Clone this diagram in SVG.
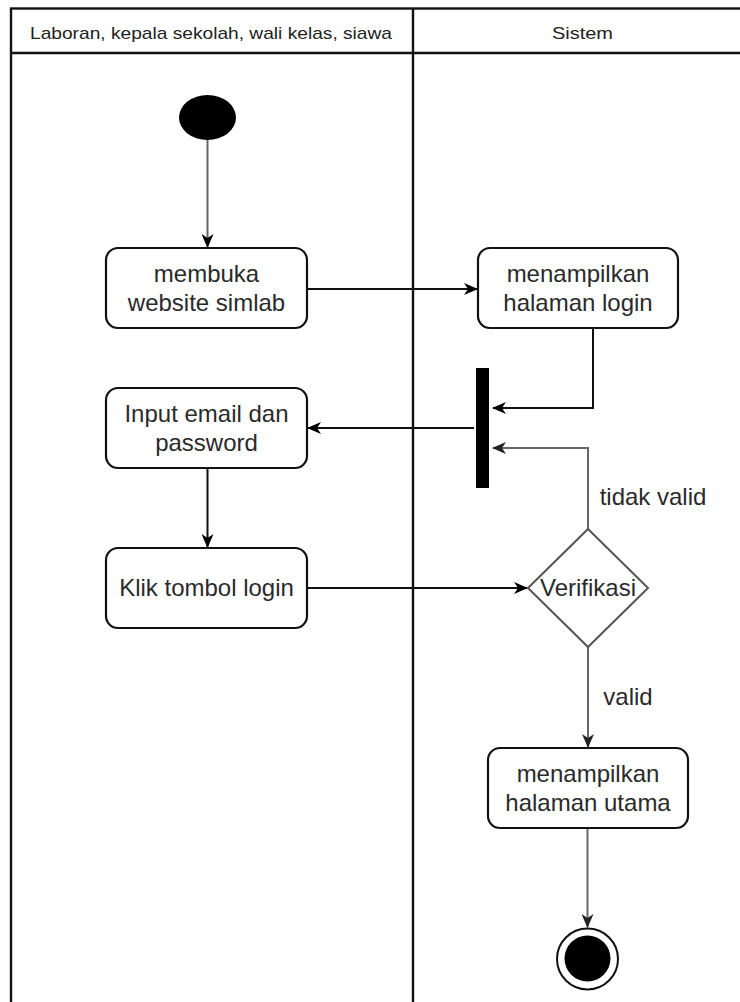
<svg xmlns="http://www.w3.org/2000/svg" width="740" height="1002" viewBox="0 0 740 1002">
  <defs>
    <marker id="arrow" viewBox="0 0 14 12" refX="13" refY="6" markerWidth="14" markerHeight="12" markerUnits="userSpaceOnUse" orient="auto">
      <path d="M0,0 L14,6 L0,12 L4,6 z" fill="#000"/>
    </marker>
    <marker id="arrowGrey" viewBox="0 0 14 12" refX="13" refY="6" markerWidth="14" markerHeight="12" markerUnits="userSpaceOnUse" orient="auto">
      <path d="M0,0 L14,6 L0,12 L4,6 z" fill="#222"/>
    </marker>
  </defs>
  <style>
    .lane { fill: none; stroke: #111; stroke-width: 2.4; }
    .hdr { font-family: "Liberation Sans", Arial, sans-serif; font-size: 17px; fill: #222; text-anchor: middle; }
    .act { fill: #fff; stroke: #111; stroke-width: 2.2; }
    .lbl { font-family: "Liberation Sans", Arial, sans-serif; font-size: 24px; fill: #2a2a2a; text-anchor: middle; }
    .edge { fill: none; stroke: #111; stroke-width: 2; }
    .edgeG { fill: none; stroke: #666; stroke-width: 2; }
  </style>

  <rect width="740" height="1002" fill="#fff"/>

  <!-- swimlane frame -->
  <g id="pool">
    <rect class="lane" x="11" y="8.5" width="745" height="1010"/>
    <line class="lane" x1="11" y1="53" x2="756" y2="53"/>
    <line class="lane" x1="413" y1="8.5" x2="413" y2="1010"/>
    <text class="hdr" x="211" y="39" textLength="362" lengthAdjust="spacingAndGlyphs">Laboran, kepala sekolah, wali kelas, siawa</text>
    <text class="hdr" x="582.5" y="39" textLength="61" lengthAdjust="spacingAndGlyphs">Sistem</text>
  </g>

  <!-- connectors -->
  <g id="connectors">
    <line class="edgeG" x1="207.5" y1="140" x2="207.5" y2="247" marker-end="url(#arrow)"/>
    <line class="edge" x1="307" y1="289" x2="477" y2="289" marker-end="url(#arrow)"/>
    <polyline class="edge" points="593,329 593,408 493,408" marker-end="url(#arrow)"/>
    <line class="edge" x1="474" y1="428" x2="308" y2="428" marker-end="url(#arrow)"/>
    <line class="edge" x1="207.5" y1="469" x2="207.5" y2="547" marker-end="url(#arrow)"/>
    <line class="edge" x1="307" y1="588" x2="527" y2="588" marker-end="url(#arrow)"/>
    <polyline class="edgeG" points="588,529 588,448 493,448" marker-end="url(#arrowGrey)"/>
    <line class="edgeG" x1="588" y1="647" x2="588" y2="747" marker-end="url(#arrowGrey)"/>
    <line class="edgeG" x1="587.5" y1="829" x2="587.5" y2="927" marker-end="url(#arrowGrey)"/>
    <text class="lbl" x="653" y="505">tidak valid</text>
    <text class="lbl" x="628" y="705">valid</text>
  </g>

  <!-- initial node -->
  <g id="start">
    <ellipse cx="207.5" cy="117.5" rx="28.5" ry="22.5" fill="#000"/>
  </g>

  <g id="membuka-website">
    <rect class="act" x="106" y="248" width="201" height="80" rx="12"/>
    <text class="lbl" x="206.5" y="282">membuka</text>
    <text class="lbl" x="206.5" y="311">website simlab</text>
  </g>

  <g id="tampil-login">
    <rect class="act" x="478" y="248" width="200" height="80" rx="12"/>
    <text class="lbl" x="578" y="282">menampilkan</text>
    <text class="lbl" x="578" y="311">halaman login</text>
  </g>

  <!-- fork/join bar -->
  <g id="bar">
    <rect x="476" y="368" width="13" height="120" fill="#000"/>
  </g>

  <g id="input-email">
    <rect class="act" x="106" y="388" width="201" height="80" rx="12"/>
    <text class="lbl" x="206.5" y="422">Input email dan</text>
    <text class="lbl" x="206.5" y="451">password</text>
  </g>

  <g id="klik-login">
    <rect class="act" x="106" y="548" width="201" height="80" rx="12"/>
    <text class="lbl" x="206.5" y="596">Klik tombol login</text>
  </g>

  <g id="verifikasi">
    <polygon points="588,529 648,588 588,647 528,588" fill="#fff" stroke="#555" stroke-width="2"/>
    <text class="lbl" x="588" y="596">Verifikasi</text>
  </g>

  <g id="tampil-utama">
    <rect class="act" x="488" y="748" width="200" height="80" rx="12"/>
    <text class="lbl" x="588" y="782">menampilkan</text>
    <text class="lbl" x="588" y="811">halaman utama</text>
  </g>

  <!-- final node -->
  <g id="end">
    <circle cx="587.5" cy="959" r="30.5" fill="#fff" stroke="#111" stroke-width="2"/>
    <circle cx="587.5" cy="958.5" r="23" fill="#000"/>
  </g>
</svg>
